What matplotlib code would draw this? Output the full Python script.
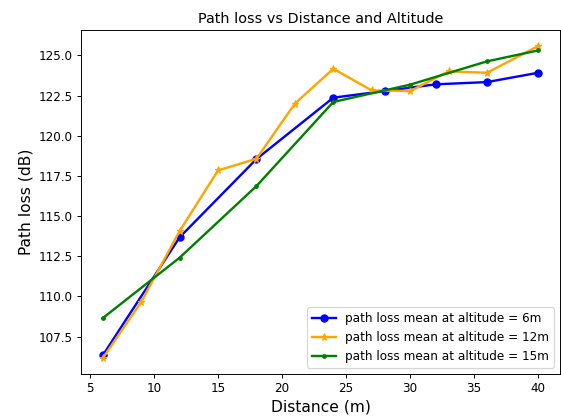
import matplotlib
matplotlib.use('Agg')
import matplotlib.pyplot as plt

# distance (m) and mean path loss (dB) per altitude
dist_6m = [6, 12, 18, 24, 28, 32, 36, 40]
loss_6m = [106.33, 113.68, 118.55, 122.37, 122.78, 123.2, 123.34, 123.92]

dist_12m = [6, 9, 12, 15, 18, 21, 24, 27, 30, 33, 36, 40]
loss_12m = [106.16, 109.65, 114.07, 117.84, 118.57, 122.0, 124.17, 122.82, 122.78, 124.0, 123.92, 125.58]

dist_15m = [6, 12, 18, 24, 30, 36, 40]
loss_15m = [108.65, 112.41, 116.87, 122.1, 123.18, 124.63, 125.31]

DPI = 86
fig = plt.figure(figsize=(561 / DPI, 417 / DPI), dpi=DPI)
ax = fig.add_axes([0.1444, 0.1038, 0.8538, 0.8231])

ax.plot(dist_6m, loss_6m, marker='o', color='blue', linewidth=2, markersize=6,
        label='path loss mean at altitude = 6m')
ax.plot(dist_12m, loss_12m, marker='*', color='orange', linewidth=2, markersize=6,
        label='path loss mean at altitude = 12m')
ax.plot(dist_15m, loss_15m, marker='.', color='green', linewidth=2, markersize=6,
        label='path loss mean at altitude = 15m')

ax.set_title('Path loss vs Distance and Altitude')
ax.set_xlabel('Distance (m)', fontsize=13)
ax.set_ylabel('Path loss (dB)', fontsize=13)
ax.legend(loc='lower right')

fig.savefig('out.png', dpi=DPI)
